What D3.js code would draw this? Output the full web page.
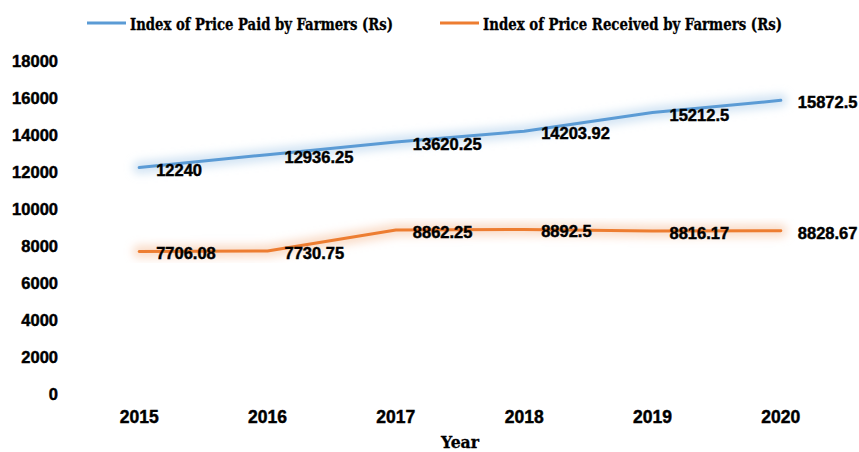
<!DOCTYPE html>
<html lang="en">
<head>
<meta charset="UTF-8">
<title>Index of Prices Paid and Received by Farmers</title>
<script src="https://d3js.org/d3.v7.js"></script>
<style>
  body { margin: 0; background: #fff; }
  .num { font-family: "Liberation Sans", Arial, sans-serif; font-weight: bold; fill: #000; stroke: #000; stroke-width: 0.45px; }
  .serif { font-family: "DejaVu Serif Condensed", "DejaVu Serif", serif; font-weight: bold; fill: #000; stroke: #000; stroke-width: 0.3px; }
</style>
</head>
<body>
<svg id="chart" width="859" height="452"></svg>
<script>
// chart data
var years = ["2015", "2016", "2017", "2018", "2019", "2020"];
var paid = [12240, 12936.25, 13620.25, 14203.92, 15212.5, 15872.5];
var received = [7706.08, 7730.75, 8862.25, 8892.5, 8816.17, 8828.67];
var yTicks = [0, 2000, 4000, 6000, 8000, 10000, 12000, 14000, 16000, 18000];
var seriesNames = ["Index of Price Paid by Farmers (Rs)", "Index of Price Received by Farmers (Rs)"];

var colors = ["#5b9bd5", "#ed7d31"];
var glowColors = ["#bdd7ee", "#f8cbad"];

var svg = d3.select("#chart");

var x = d3.scaleBand().domain(years).range([75, 845]);
var y = d3.scaleLinear().domain([0, 18000]).range([394, 61]);

// soft glow behind the lines
var defs = svg.append("defs");
defs.append("filter")
    .attr("id", "glow")
    .attr("x", "-10%").attr("y", "-50%")
    .attr("width", "120%").attr("height", "200%")
    .append("feGaussianBlur")
    .attr("stdDeviation", 4.5);

// y axis labels (no axis line)
svg.append("g").selectAll("text")
   .data(yTicks)
   .join("text")
   .attr("class", "num")
   .attr("x", 58)
   .attr("y", d => y(d))
   .attr("dy", "0.36em")
   .attr("text-anchor", "end")
   .style("font-size", "16.5px")
   .text(d => d);

// x axis labels
svg.append("g").selectAll("text")
   .data(years)
   .join("text")
   .attr("class", "num")
   .attr("x", d => x(d) + x.bandwidth() / 2)
   .attr("y", 423)
   .attr("text-anchor", "middle")
   .style("font-size", "17.5px")
   .text(d => d);

svg.append("text")
   .attr("class", "serif")
   .attr("x", 460)
   .attr("y", 448)
   .attr("text-anchor", "middle")
   .style("font-size", "17.5px")
   .attr("textLength", 38)
   .attr("lengthAdjust", "spacingAndGlyphs")
   .text("Year");

var line = d3.line()
    .x((d, i) => x(years[i]) + x.bandwidth() / 2)
    .y(d => y(d));

[paid, received].forEach(function(vals, k) {
    svg.append("path")
       .attr("d", line(vals))
       .attr("fill", "none")
       .attr("stroke", glowColors[k])
       .attr("stroke-width", 13)
       .attr("stroke-opacity", 0.65)
       .attr("stroke-linecap", "round")
       .attr("stroke-linejoin", "round")
       .attr("filter", "url(#glow)");
});

[paid, received].forEach(function(vals, k) {
    svg.append("path")
       .attr("d", line(vals))
       .attr("fill", "none")
       .attr("stroke", colors[k])
       .attr("stroke-width", 3)
       .attr("stroke-linecap", "round")
       .attr("stroke-linejoin", "round");

    svg.append("g").selectAll("text")
       .data(vals)
       .join("text")
       .attr("class", "num")
       .attr("x", (d, i) => x(years[i]) + x.bandwidth() / 2 + 17)
       .attr("y", d => y(d) + 2)
       .attr("dy", "0.36em")
       .style("font-size", "16.5px")
       .text(d => d);
});

// legend
var legendX = [87, 440];
var legendW = [263, 299];
seriesNames.forEach(function(name, k) {
    svg.append("line")
       .attr("x1", legendX[k]).attr("x2", legendX[k] + 39)
       .attr("y1", 23).attr("y2", 23)
       .attr("stroke", colors[k])
       .attr("stroke-width", 3);
    svg.append("text")
       .attr("class", "serif")
       .attr("x", legendX[k] + 43)
       .attr("y", 30)
       .style("font-size", "17.5px")
       .attr("textLength", legendW[k])
       .attr("lengthAdjust", "spacingAndGlyphs")
       .text(name);
});
</script>
</body>
</html>
